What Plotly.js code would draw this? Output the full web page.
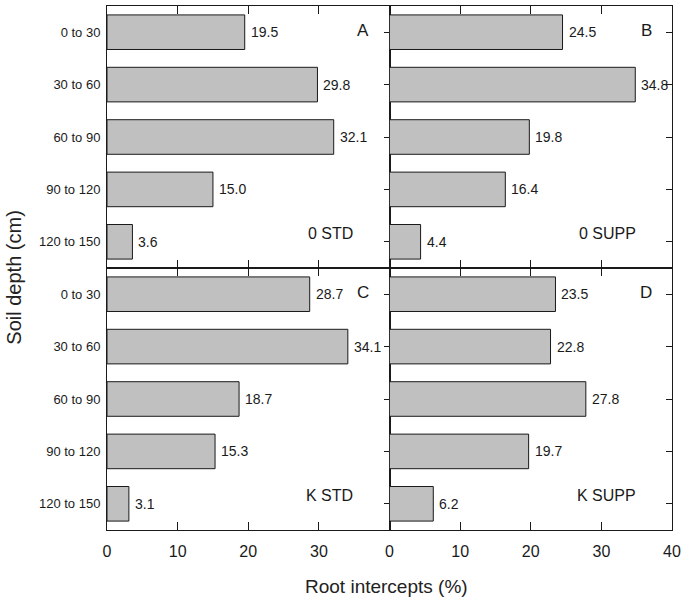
<!DOCTYPE html>
<html><head><meta charset="utf-8">
<script src="https://cdn.plot.ly/plotly-3.0.1.min.js"></script>
<style>html,body{margin:0;padding:0;background:#fff}</style>
</head><body><div id="chart" style="width:683px;height:601px"></div>
<script>
const depths = ["0 to 30","30 to 60","60 to 90","90 to 120","120 to 150"];
const valsA = [19.5,29.8,32.1,15.0,3.6];
const valsB = [24.5,34.8,19.8,16.4,4.4];
const valsC = [28.7,34.1,18.7,15.3,3.1];
const valsD = [23.5,22.8,27.8,19.7,6.2];
const panelLetters = ["A","B","C","D"];
const treatments = ["0 STD","0 SUPP","K STD","K SUPP"];
const xTicksLeft = [0,10,20,30];
const xTicksRight = [0,10,20,30,40];
const xTitle = "Root intercepts (%)";
const yTitle = "Soil depth (cm)";

const FONT = "Liberation Sans, Arial, sans-serif";
const INK = "#1a1a1a";
const panels = [
  {vals: valsA, xa: "x",  ya: "y",  xd: [0,0.5], yd: [0.5,1], left: true,  bottom: false},
  {vals: valsB, xa: "x2", ya: "y2", xd: [0.5,1], yd: [0.5,1], left: false, bottom: false},
  {vals: valsC, xa: "x3", ya: "y3", xd: [0,0.5], yd: [0,0.5], left: true,  bottom: true},
  {vals: valsD, xa: "x4", ya: "y4", xd: [0.5,1], yd: [0,0.5], left: false, bottom: true}
];

const data = [];
const annotations = [];
const layout = {
  width: 683, height: 601,
  margin: {l: 107, r: 11, t: 6, b: 71},
  paper_bgcolor: "#fff", plot_bgcolor: "#fff",
  showlegend: false,
  font: {family: FONT, color: INK},
  annotations: annotations
};

panels.forEach((p, i) => {
  data.push({
    type: "bar", orientation: "h",
    x: p.vals, y: depths,
    xaxis: p.xa, yaxis: p.ya,
    width: 0.66,
    marker: {color: "#c0c0c0", line: {color: INK, width: 1}},
    hoverinfo: "skip"
  });
  const xk = "xaxis" + (i === 0 ? "" : (i + 1));
  const yk = "yaxis" + (i === 0 ? "" : (i + 1));
  layout[xk] = {
    domain: p.xd, anchor: p.ya, range: [0, 40],
    tickvals: p.left ? xTicksLeft : xTicksRight,
    ticktext: (p.left ? xTicksLeft : xTicksRight).map(String),
    showticklabels: p.bottom,
    ticks: "inside", ticklen: 8, tickwidth: 1, tickcolor: INK,
    showline: true, linecolor: INK, linewidth: 1, mirror: "ticks",
    showgrid: false, zeroline: false, layer: "below traces",
    tickfont: {size: 16, family: FONT, color: INK},
    ticklabelstandoff: 7, fixedrange: true
  };
  layout[yk] = {
    domain: p.yd, anchor: p.xa, type: "category",
    categoryarray: depths, categoryorder: "array",
    range: [4.5, -0.5],
    showticklabels: p.left,
    ticks: "inside", ticklen: 6, tickwidth: 1, tickcolor: INK,
    showline: true, linecolor: INK, linewidth: 1, mirror: "ticks",
    showgrid: false, zeroline: false, layer: "below traces",
    tickfont: {size: 13, family: FONT, color: INK},
    ticklabelstandoff: 3, fixedrange: true
  };
  p.vals.forEach((v, j) => {
    annotations.push({
      xref: p.xa, yref: p.ya, x: v, y: depths[j],
      text: v.toFixed(1), showarrow: false,
      xanchor: "left", yanchor: "middle", xshift: 4,
      font: {size: 14, family: FONT, color: INK}
    });
  });
  annotations.push({
    xref: p.xa + " domain", yref: p.ya + " domain", x: 0.935, y: 0.905,
    text: panelLetters[i], showarrow: false, xanchor: "right", yanchor: "middle",
    font: {size: 17, family: FONT, color: INK}
  });
  annotations.push({
    xref: p.xa + " domain", yref: p.ya + " domain", x: 0.878, y: 0.132,
    text: treatments[i], showarrow: false, xanchor: "right", yanchor: "middle",
    font: {size: 16, family: FONT, color: INK}
  });
});

annotations.push({
  xref: "paper", yref: "paper", x: 0.495, y: -0.107,
  text: xTitle, showarrow: false, xanchor: "center", yanchor: "middle",
  font: {size: 19, family: FONT, color: "#222"}
});
annotations.push({
  xref: "paper", yref: "paper", x: -0.165, y: 0.483,
  text: yTitle, showarrow: false, xanchor: "center", yanchor: "middle", textangle: -90,
  font: {size: 20, family: FONT, color: "#222"}
});

Plotly.newPlot("chart", data, layout, {staticPlot: true, displayModeBar: false});
</script>
</body></html>
